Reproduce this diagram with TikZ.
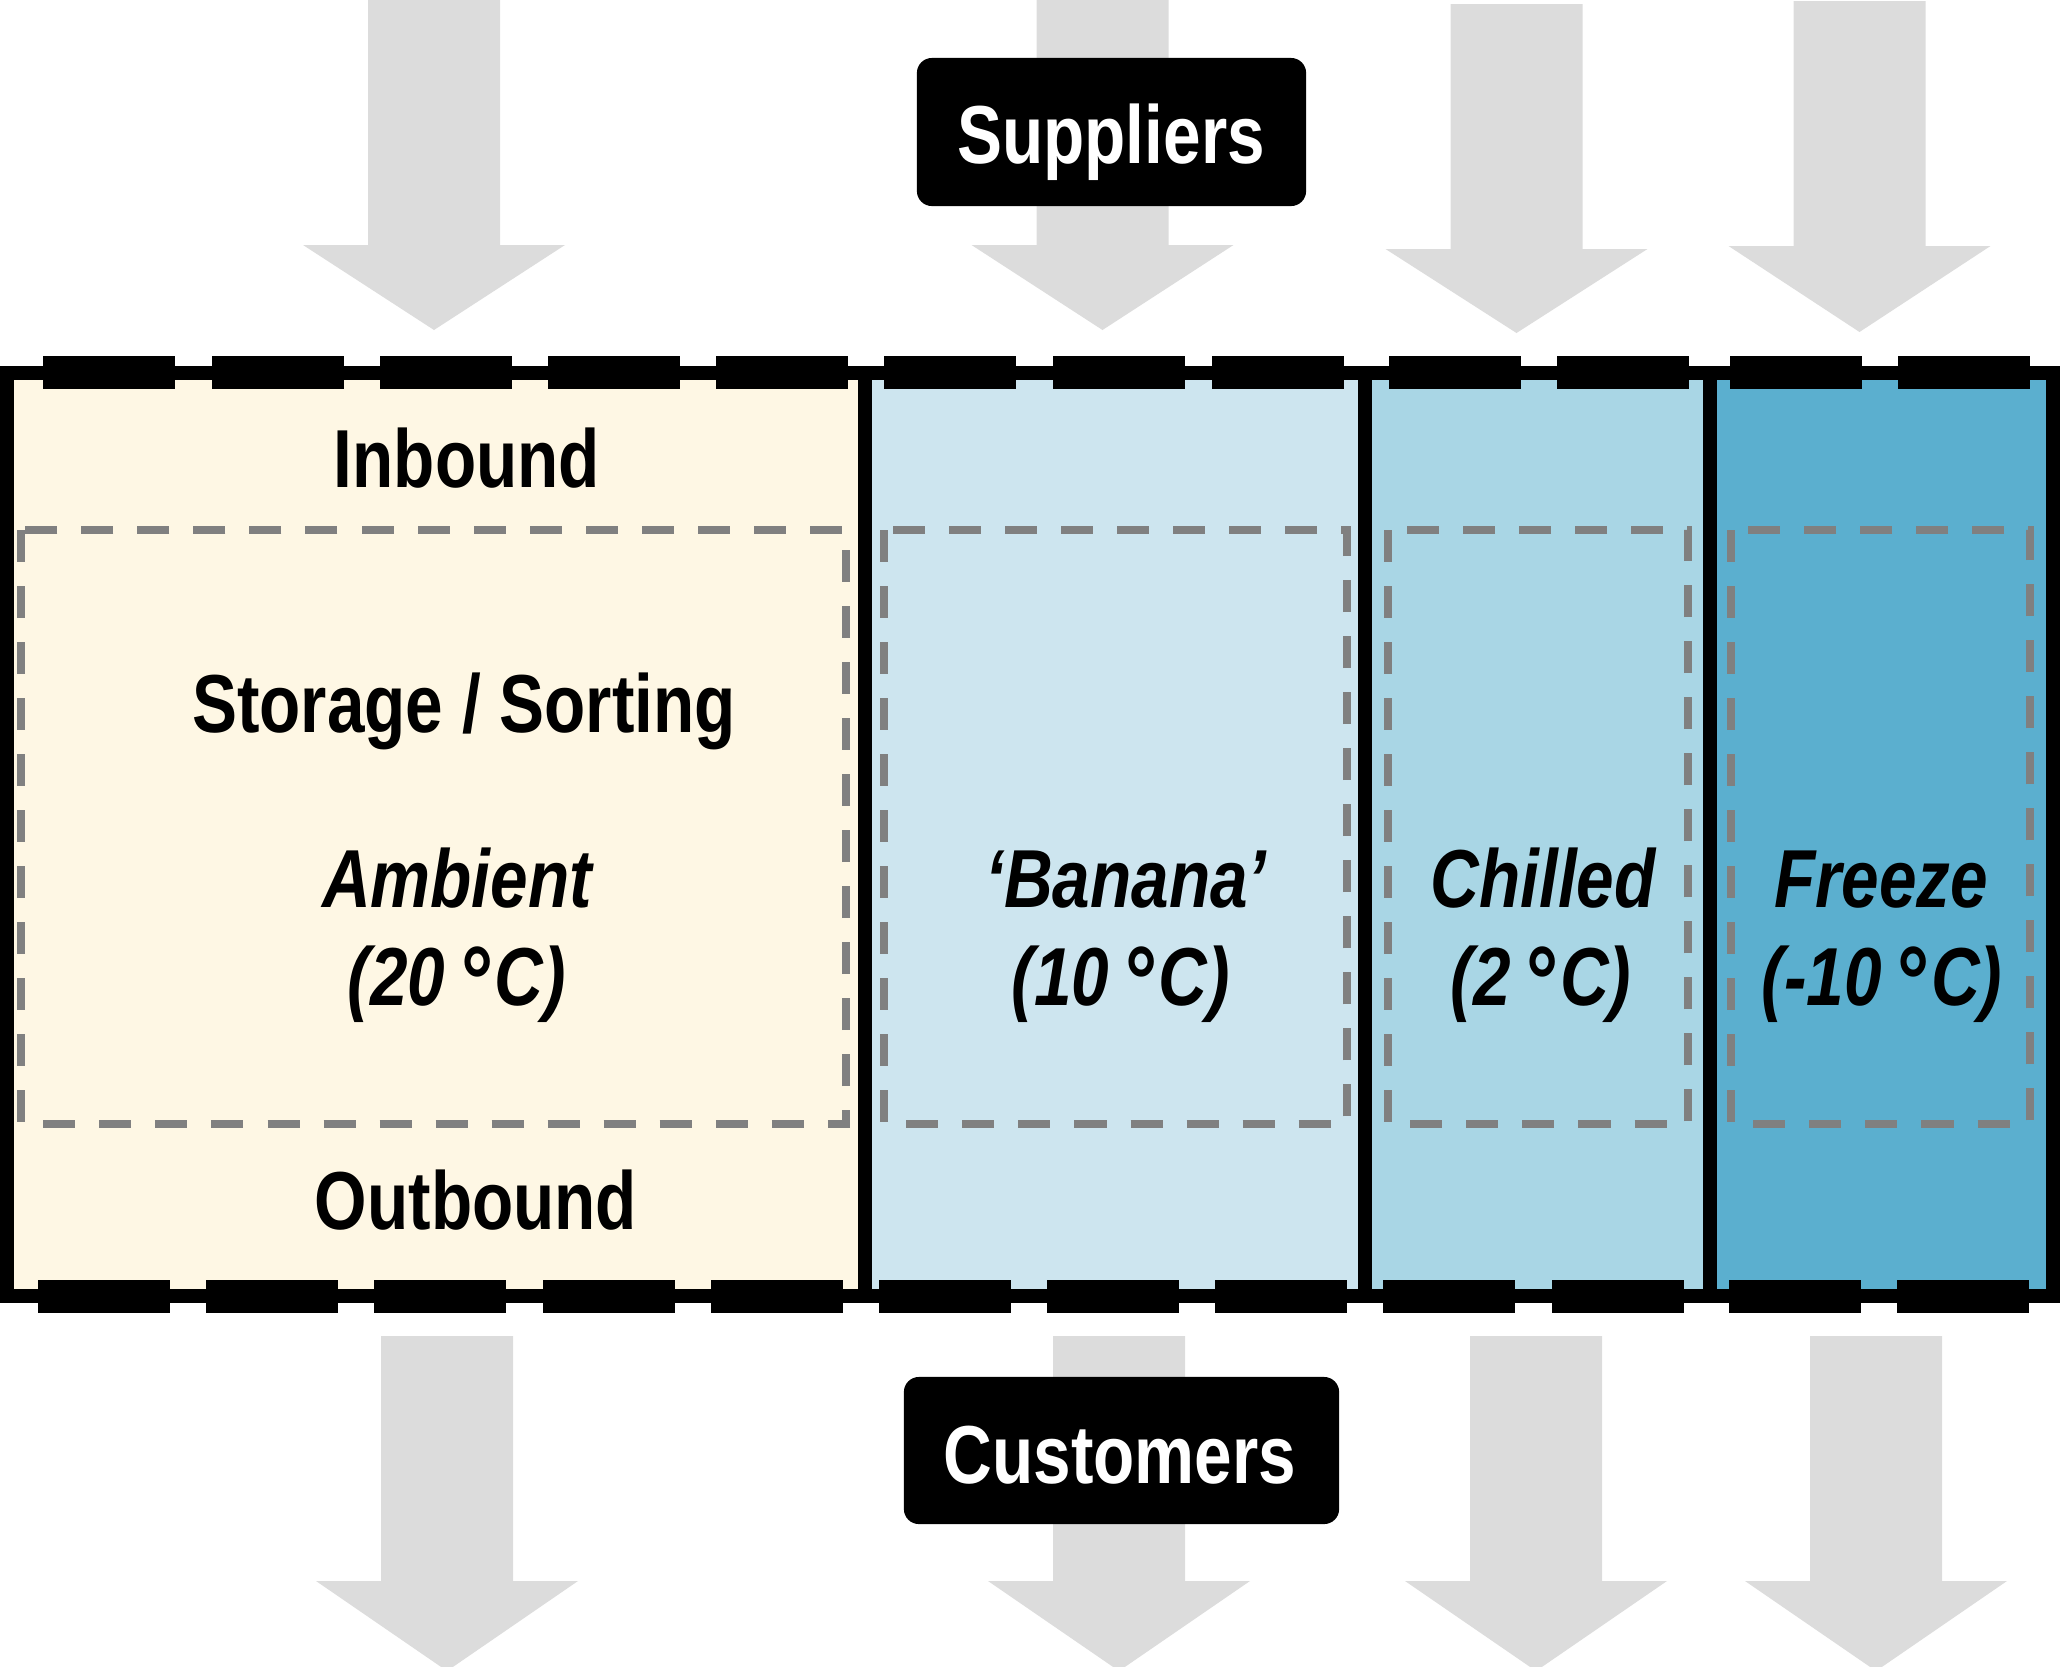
\documentclass[tikz,border=0pt]{standalone}
\usepackage{fontspec}
\setmainfont{Liberation Sans}[FakeStretch=0.82]
\definecolor{ambientc}{HTML}{FEF7E4}
\definecolor{bananac}{HTML}{CDE5EF}
\definecolor{chilledc}{HTML}{A9D6E5}
\definecolor{freezec}{HTML}{5BAFCF}
\definecolor{flowgray}{HTML}{DCDCDC}
\definecolor{boxgray}{HTML}{808080}
\tikzset{
  lbl/.style={font=\fontsize{23.4}{28}\selectfont\bfseries, inner sep=0pt, anchor=base},
  ilbl/.style={font=\fontsize{23.4}{28}\selectfont\bfseries\itshape, inner sep=0pt, anchor=base},
  wall/.style={draw=black, line width=3.98pt},
  door/.style={fill=black},
  zonebox/.style={draw=boxgray, line width=2.28pt, dash pattern=on 0.32cm off 0.24cm},
  flow/.style={fill=flowgray},
  tagbox/.style={fill=black, rounded corners=0.15cm, inner sep=0pt},
}
\newcommand\degsym{\kern-0.08em\raisebox{-0.25ex}{\scalebox{1.2}{°}}\kern0.06em}
\newcommand\flowarrow[4]{%
  \fill[flow] (#1-66,#2) -- (#1+66,#2) -- (#1+66,#3) -- (#1+131,#3) -- (#1,#4)
    -- (#1-131,#3) -- (#1-66,#3) -- cycle;}
\begin{document}
\begin{tikzpicture}[x=0.01cm,y=-0.01cm]
\path[use as bounding box] (0,0) rectangle (2060,1666);

% inbound flows
\flowarrow{434}{-5}{245}{330}
\flowarrow{1102.5}{-5}{245}{330}
\flowarrow{1516.5}{4}{249}{333}
\flowarrow{1859.5}{1}{246}{332}
% outbound flows
\flowarrow{447}{1336}{1581}{1671}
\flowarrow{1119}{1336}{1581}{1671}
\flowarrow{1536}{1336}{1581}{1671}
\flowarrow{1876}{1336}{1581}{1671}

% tags
\node[tagbox, minimum width=3.89cm, minimum height=1.48cm] (sup) at (1111.5,132) {};
\node[lbl, text=white] (suptxt) at (1111,163) {Suppliers};
\node[tagbox, minimum width=4.35cm, minimum height=1.47cm] (cus) at (1121.5,1450.5) {};
\node[lbl, text=white] (custxt) at (1120,1483) {Customers};

% zones
\fill[ambientc] (7,373) rectangle (865,1296);
\fill[bananac] (865,373) rectangle (1365,1296);
\fill[chilledc] (1365,373) rectangle (1710,1296);
\fill[freezec] (1710,373) rectangle (2053,1296);

% storage areas
\draw[zonebox] (21,530) rectangle (846,1124);
\draw[zonebox] (884,530) rectangle (1347,1124);
\draw[zonebox] (1388,530) rectangle (1688,1124);
\draw[zonebox] (1731,530) rectangle (2030,1124);

% walls
\draw[wall] (7,373) rectangle (2053,1296);
\draw[wall] (865,373) -- (865,1296);
\draw[wall] (1365,373) -- (1365,1296);
\draw[wall] (1710,373) -- (1710,1296);

% dock doors
\foreach \x in {43,212,380,548,716,884,1053,1212,1389,1557,1730,1898}
  \fill[door] (\x,356) rectangle (\x+132,389);
\foreach \x in {38,206,374,543,711,879,1047,1215,1383,1552,1729,1897}
  \fill[door] (\x,1280) rectangle (\x+132,1313);

% labels
\node[lbl] (inb) at (467,487) {Inbound};
\node[lbl] (sto) at (464,732) {Storage / Sorting};
\node[ilbl] (amb1) at (457,907) {Ambient};
\node[ilbl] (amb2) at (457,1005) {(20 \degsym C)};
\node[lbl] (outb) at (476,1229) {Outbound};
\node[ilbl] (ban1) at (1126,907) {‘Banana’};
\node[ilbl] (ban2) at (1121,1005) {(10 \degsym C)};
\node[ilbl] (chi1) at (1543,907) {Chilled};
\node[ilbl] (chi2) at (1541,1005) {(2 \degsym C)};
\node[ilbl] (fre1) at (1881,907) {Freeze};
\node[ilbl] (fre2) at (1882,1005) {(-10 \degsym C)};
\end{tikzpicture}
\end{document}
